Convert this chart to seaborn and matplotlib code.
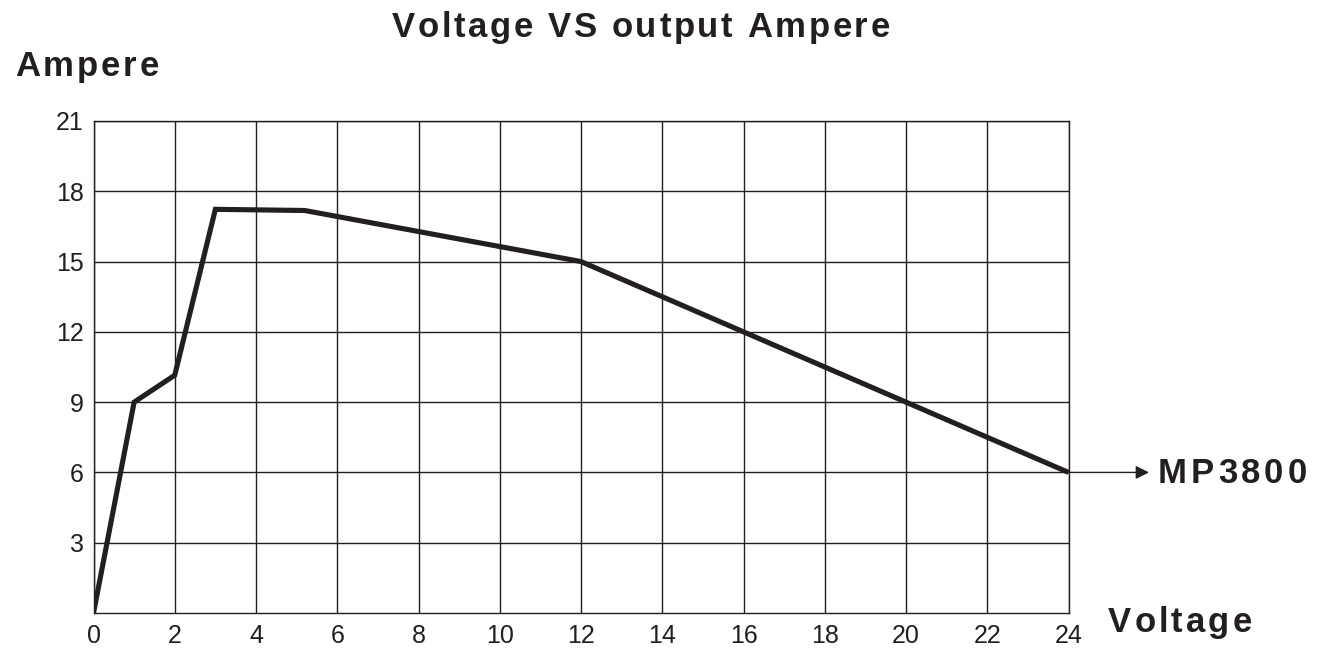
import matplotlib
matplotlib.use("Agg")
import matplotlib.pyplot as plt
import seaborn as sns
import pandas as pd
from matplotlib.font_manager import FontProperties, findfont
from matplotlib.ft2font import FT2Font

voltage = [0, 1, 2, 3, 5.2, 12, 24]
ampere = [0, 9.0, 10.15, 17.23, 17.18, 15.0, 6.0]
x_ticks = [0, 2, 4, 6, 8, 10, 12, 14, 16, 18, 20, 22, 24]
y_ticks = [3, 6, 9, 12, 15, 18, 21]
series_label = "MP3800"
title = "Voltage VS output Ampere"
x_label = "Voltage"
y_label = "Ampere"

INK = "#231f20"
W, H, DPI = 1319, 651, 100

sns.set_theme(style="white")
plt.rcParams['font.family'] = ['Liberation Sans', 'DejaVu Sans']

fig = plt.figure(figsize=(W / DPI, H / DPI), dpi=DPI)
ax = fig.add_axes([93.5 / W, 1 - 613 / H, (1068.5 - 93.5) / W, (613 - 121) / H])

df = pd.DataFrame({"Voltage": voltage, "Ampere": ampere})
sns.lineplot(data=df, x="Voltage", y="Ampere", ax=ax, color=INK,
             linewidth=3.7, solid_joinstyle="miter", solid_capstyle="butt")

ax.set_xlim(0, 24)
ax.set_ylim(0, 21)
ax.set_xticks(x_ticks)
ax.set_yticks(y_ticks)
ax.set_xticklabels([str(t) for t in x_ticks], fontsize=18, color=INK)
ax.set_yticklabels([str(t) for t in y_ticks], fontsize=18, color=INK)
ax.tick_params(axis="x", length=0, pad=8)
ax.tick_params(axis="y", length=0, pad=7)
ax.grid(True, color=INK, linewidth=1.0)
for s in ax.spines.values():
    s.set_color(INK)
    s.set_linewidth(1.0)
ax.set_xlabel("")
ax.set_ylabel("")


def spaced_text(text, x_left, x_right, y_base, size):
    """Draw bold text with letter spacing so it spans x_left..x_right (pixels)."""
    prop = FontProperties(family="Liberation Sans", weight="bold", size=size)
    font = FT2Font(findfont(prop))
    font.set_size(size, DPI)
    advs = []
    for c in text:
        g = font.load_char(ord(c))
        advs.append(g.linearHoriAdvance / 65536.0)
    natural = sum(advs[:-1]) + advs[-1] * 0.92
    track = ((x_right - x_left) - natural) / max(len(text) - 1, 1)
    x = x_left
    for c, a in zip(text, advs):
        if c != " ":
            fig.text(x / W, 1 - y_base / H, c, ha="left", va="baseline",
                     fontsize=size, fontweight="bold", color=INK,
                     family="Liberation Sans")
        x += a + track


spaced_text(title, 392, 888, 37, 25)
spaced_text(y_label, 15, 157, 76, 25)
spaced_text(x_label, 1108, 1250, 632, 25)
spaced_text(series_label, 1158, 1305, 483, 25)

ax.annotate("", xy=(1149 / W, ampere[-1]), xycoords=("figure fraction", "data"),
            xytext=(voltage[-1], ampere[-1]), textcoords="data",
            arrowprops=dict(arrowstyle="-|>", color=INK, lw=1.0,
                            mutation_scale=20, shrinkA=0, shrinkB=0),
            annotation_clip=False)

fig.savefig("out.png", dpi=DPI, facecolor="white")
